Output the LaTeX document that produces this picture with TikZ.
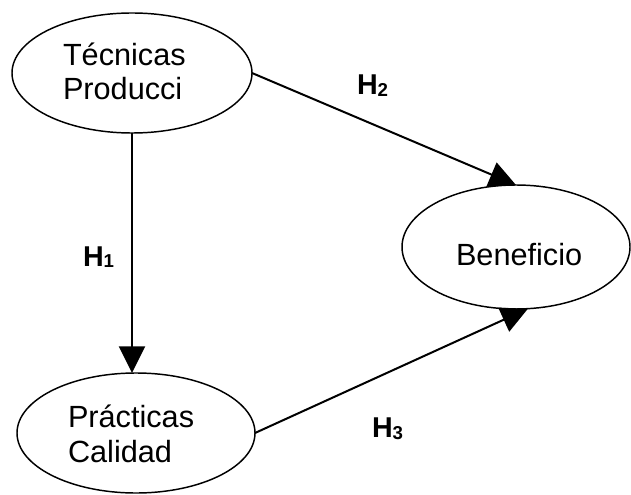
\documentclass[tikz,border=0pt]{standalone}
\usepackage{fontspec}
\setmainfont{Liberation Sans}
\usetikzlibrary{arrows.meta,shapes.geometric}
\begin{document}
\begin{tikzpicture}[x=0.75pt,y=-0.75pt,
  oval/.style={draw, ellipse, line width=1.1pt, inner sep=0pt, outer sep=0pt},
  lbl/.style={inner sep=0pt, outer sep=0pt, align=left,
    font=\fontsize{23}{26}\selectfont},
  hyp/.style={inner sep=0pt, outer sep=0pt, font=\fontsize{21.5}{24}\selectfont\bfseries},
  link/.style={line width=1.5pt, -{Triangle[length=20pt,width=19.5pt]}}]
  \useasboundingbox (0,0) rectangle (631,495);

  % constructs
  \node[oval, minimum width=180pt, minimum height=90pt] (tec) at (132,73) {};
  \node[oval, minimum width=178.5pt, minimum height=90pt] (pra) at (136,433) {};
  \node[oval, minimum width=171pt, minimum height=93pt] (ben) at (516,247) {};

  % the base anchor of a two-line label sits on its last line
  \node[lbl, anchor=base west] (tectxt) at (63,100) {Técnicas\\Producci};
  \node[lbl, anchor=base west] (pratxt) at (68,462) {Prácticas\\Calidad};
  \node[lbl, anchor=base west] (bentxt) at (456,265) {Beneficio};

  % hypothesised paths
  \draw[link] (tec.south) -- (tec.south |- pra.north);
  \draw[link] (tec.east) -- (ben.north);
  \draw[link] (pra.east) -- (ben.-79);

  \newcommand{\hsub}[1]{\raisebox{-1.5pt}{\fontsize{14}{15}\selectfont #1}}
  \node[hyp, anchor=base west] (h1) at (83,266) {H\hsub{1}};
  \node[hyp, anchor=base west] (h2) at (357,95) {H\hsub{2}};
  \node[hyp, anchor=base west] (h3) at (372,437) {H\hsub{3}};
\end{tikzpicture}
\end{document}
